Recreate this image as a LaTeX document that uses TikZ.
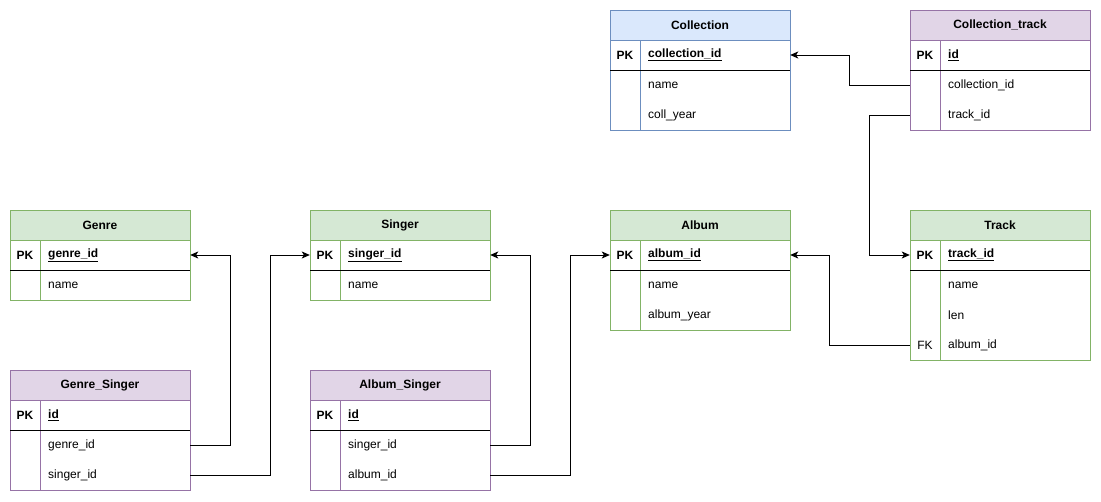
\documentclass[tikz,border=0pt]{standalone}
\usepackage{fontspec}
\setmainfont{Liberation Sans}
\usetikzlibrary{arrows.meta}

\definecolor{grnfill}{HTML}{D5E8D4}
\definecolor{grnline}{HTML}{82B366}
\definecolor{blufill}{HTML}{DAE8FC}
\definecolor{bluline}{HTML}{6C8EBF}
\definecolor{purfill}{HTML}{E1D5E7}
\definecolor{purline}{HTML}{9673A6}

\tikzset{
  green/.style={fill=grnfill, draw=grnline},
  blue/.style={fill=blufill, draw=bluline},
  purple/.style={fill=purfill, draw=purline},
  hdr/.style={rectangle, minimum width=180pt, minimum height=30pt, inner sep=0pt,
    font=\fontsize{12}{14}\selectfont\bfseries, line width=1pt},
  rowcell/.style={rectangle, minimum width=180pt, minimum height=30pt, inner sep=0pt},
  keytxt/.style={inner sep=0pt, font=\fontsize{12}{14}\selectfont},
  fldtxt/.style={anchor=west, inner sep=0pt, font=\fontsize{12}{14}\selectfont},
  conn/.style={line width=1pt, -{Stealth[length=8pt,width=7pt,inset=2pt]}},
}

% table title bar: name, left x, top y, colour style, title
\newcommand\ertitle[5]{%
  \node[hdr,#4] (#1) at (#2+90,#3+15) {#5};}
% table row: name, left x, centre y, key text, field text
\newcommand\errow[5]{%
  \node[rowcell] (#1) at (#2+90,#3) {};
  \node[keytxt] (#1-k) at (#2+15,#3) {#4};
  \node[fldtxt] (#1-t) at (#2+38,#3) {#5};}
% table frame: left x, top y, bottom y, border colour
\newcommand\erframe[4]{%
  \draw[#4, line width=1pt] (#1,#2) rectangle (#1+180,#3);
  \draw[#4, line width=1pt] (#1+30,#2+30) -- (#1+30,#3);
  \draw[black, line width=1pt] (#1,#2+60) -- (#1+180,#2+60);}
\newcommand\pkfield[1]{\textbf{\underline{#1}}}

\begin{document}
\begin{tikzpicture}[x=1pt, y=-1pt]
\useasboundingbox (0,0) rectangle (1101,501);

% Collection
\ertitle{coll}{610}{10}{blue}{Collection}
\errow{coll-pk}{610}{55}{\textbf{PK}}{\pkfield{collection\_id}}
\errow{coll-name}{610}{85}{}{name}
\errow{coll-year}{610}{115}{}{coll\_year}
\erframe{610}{10}{130}{bluline}

% Collection_track
\ertitle{ct}{910}{10}{purple}{Collection\_track}
\errow{ct-pk}{910}{55}{\textbf{PK}}{\pkfield{id}}
\errow{ct-coll}{910}{85}{}{collection\_id}
\errow{ct-track}{910}{115}{}{track\_id}
\erframe{910}{10}{130}{purline}

% Genre
\ertitle{genre}{10}{210}{green}{Genre}
\errow{genre-pk}{10}{255}{\textbf{PK}}{\pkfield{genre\_id}}
\errow{genre-name}{10}{285}{}{name}
\erframe{10}{210}{300}{grnline}

% Singer
\ertitle{singer}{310}{210}{green}{Singer}
\errow{singer-pk}{310}{255}{\textbf{PK}}{\pkfield{singer\_id}}
\errow{singer-name}{310}{285}{}{name}
\erframe{310}{210}{300}{grnline}

% Album
\ertitle{album}{610}{210}{green}{Album}
\errow{album-pk}{610}{255}{\textbf{PK}}{\pkfield{album\_id}}
\errow{album-name}{610}{285}{}{name}
\errow{album-year}{610}{315}{}{album\_year}
\erframe{610}{210}{330}{grnline}

% Track
\ertitle{track}{910}{210}{green}{Track}
\errow{track-pk}{910}{255}{\textbf{PK}}{\pkfield{track\_id}}
\errow{track-name}{910}{285}{}{name}
\errow{track-len}{910}{315}{}{len}
\errow{track-album}{910}{345}{FK}{album\_id}
\erframe{910}{210}{360}{grnline}

% Genre_Singer
\ertitle{gs}{10}{370}{purple}{Genre\_Singer}
\errow{gs-pk}{10}{415}{\textbf{PK}}{\pkfield{id}}
\errow{gs-genre}{10}{445}{}{genre\_id}
\errow{gs-singer}{10}{475}{}{singer\_id}
\erframe{10}{370}{490}{purline}

% Album_Singer
\ertitle{as}{310}{370}{purple}{Album\_Singer}
\errow{as-pk}{310}{415}{\textbf{PK}}{\pkfield{id}}
\errow{as-singer}{310}{445}{}{singer\_id}
\errow{as-album}{310}{475}{}{album\_id}
\erframe{310}{370}{490}{purline}

% foreign key connectors
\draw[conn] (gs-genre.east) -- ++(40,0) |- (genre-pk.east);
\draw[conn] (gs-singer.east) -- ++(80,0) |- (singer-pk.west);
\draw[conn] (as-singer.east) -- ++(40,0) |- (singer-pk.east);
\draw[conn] (as-album.east) -- ++(80,0) |- (album-pk.west);
\draw[conn] (track-album.west) -- ++(-80,0) |- (album-pk.east);
\draw[conn] (ct-coll.west) -- ++(-60,0) |- (coll-pk.east);
\draw[conn] (ct-track.west) -- ++(-40,0) |- (track-pk.west);
\end{tikzpicture}
\end{document}
